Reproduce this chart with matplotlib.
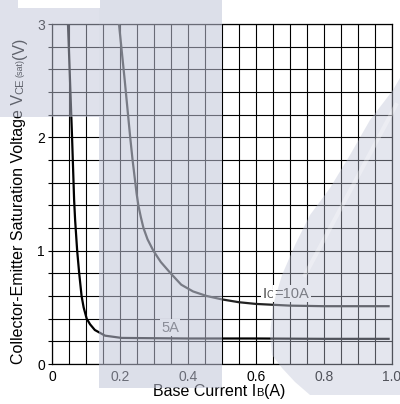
import numpy as np
import matplotlib
matplotlib.use("Agg")
import matplotlib.pyplot as plt
from matplotlib.patches import Rectangle, Polygon

plt.rcParams['font.family'] = ['Liberation Sans', 'DejaVu Sans']

# data
ib_5a = [0.047, 0.053, 0.059, 0.065, 0.068, 0.074, 0.080, 0.087, 0.093, 0.102, 0.112,
         0.126, 0.156, 0.205, 0.40, 0.60, 0.80, 0.99]
vce_5a = [3.0, 2.5, 2.0, 1.45, 1.27, 1.0, 0.8, 0.6, 0.5, 0.4, 0.35,
          0.30, 0.25, 0.23, 0.225, 0.225, 0.222, 0.222]

ib_10a = [0.197, 0.214, 0.230, 0.237, 0.245, 0.249, 0.254, 0.261, 0.269, 0.281, 0.298,
          0.320, 0.349, 0.380, 0.415, 0.455, 0.50, 0.55, 0.60, 0.70, 0.80, 0.99]
vce_10a = [3.0, 2.5, 2.0, 1.8, 1.6, 1.5, 1.4, 1.3, 1.2, 1.1, 1.0,
           0.9, 0.8, 0.7, 0.64, 0.60, 0.57, 0.545, 0.53, 0.515, 0.51, 0.51]

x_ticks = [0, 0.2, 0.4, 0.6, 0.8, 1.0]
x_labels = ["0", "0.2", "0.4", "0.6", "0.8", "1.0"]
y_ticks = [0, 1, 2, 3]
y_labels = ["0", "1", "2", "3"]

W, H = 400, 404
fig = plt.figure(figsize=(W / 100, H / 100), dpi=100)


def px(x, y):
    return (x / W, 1 - y / H)


ax = fig.add_axes([52 / W, 1 - 364 / H, 340 / W, 340 / H])
ax.set_xlim(0, 1)
ax.set_ylim(0, 3)
ax.set_xticks(x_ticks)
ax.set_xticklabels(x_labels)
ax.set_yticks(y_ticks)
ax.set_yticklabels(y_labels)
ax.set_xticks(np.arange(0, 1.001, 0.05), minor=True)
ax.set_yticks(np.arange(0, 3.001, 0.2), minor=True)
ax.grid(True, which='both', color='black', linewidth=0.8)
ax.set_axisbelow(True)
ax.tick_params(axis='x', which='both', length=0, pad=4, labelsize=10, colors='black')
ax.tick_params(axis='y', which='both', length=3, width=0.8, pad=2, labelsize=10, direction='out')
for s in ax.spines.values():
    s.set_linewidth(0.9)

ax.plot(ib_5a, vce_5a, color='black', linewidth=1.6, zorder=3)
ax.plot(ib_10a, vce_10a, color='#222222', linewidth=1.6, zorder=3)

lab_col = '#4a4a4a'
box = dict(facecolor='white', edgecolor='none', pad=1)
t = ax.text(0.62, 0.62, "I", fontsize=10.5, color=lab_col, va='center', ha='left', bbox=box, zorder=4)
t = ax.annotate("C", xy=(1, 0), xycoords=t, xytext=(0, 0.6), textcoords='offset points',
                fontsize=7.5, color=lab_col, va='bottom', ha='left', bbox=box, zorder=4)
ax.annotate("=10A", xy=(1, 0), xycoords=t, xytext=(0, -0.6), textcoords='offset points',
            fontsize=10.5, color=lab_col, va='bottom', ha='left', bbox=box, zorder=4)
ax.text(0.347, 0.32, "5A", fontsize=10.5, color=lab_col, va='center', ha='center', bbox=box, zorder=4)

# x label
tx = fig.text(*px(153, 396), "Base Current I", fontsize=11.5, ha='left', va='baseline')
tb = ax.annotate("B", xy=(1, 0), xycoords=tx, xytext=(0, 0.8), textcoords='offset points',
                 fontsize=8, va='bottom', ha='left', annotation_clip=False)
ax.annotate("(A)", xy=(1, 0), xycoords=tb, xytext=(0, -0.8), textcoords='offset points',
            fontsize=11.5, va='bottom', ha='left', annotation_clip=False)

# y label
t = fig.text(*px(19, 364), "Collector-Emitter Saturation Voltage V", fontsize=11.5,
             rotation=90, ha='center', va='bottom')
t = ax.annotate("CE", xy=(1, 1), xycoords=t, xytext=(-0.8, 0), textcoords='offset points',
                fontsize=8, rotation=90, va='bottom', ha='right', annotation_clip=False)
t = ax.annotate("(sat)", xy=(1, 1), xycoords=t, xytext=(-0.4, 1), textcoords='offset points',
                fontsize=6.5, rotation=90, va='bottom', ha='right', annotation_clip=False)
ax.annotate("(V)", xy=(1, 1), xycoords=t, xytext=(1.2, 0), textcoords='offset points',
            fontsize=11.5, rotation=90, va='bottom', ha='right', annotation_clip=False)

# watermark overlay
lav = '#c0c5d8'
x0, y0 = px(0, 117)
fig.add_artist(Rectangle((x0, y0), 99 / W, 117 / H, transform=fig.transFigure,
                         facecolor=lav, edgecolor='none', alpha=0.5, zorder=10))
x0, y0 = px(99, 388)
fig.add_artist(Rectangle((x0, y0), 123 / W, 388 / H, transform=fig.transFigure,
                         facecolor=lav, edgecolor='none', alpha=0.55, zorder=10))
x0, y0 = px(18, 8)
fig.add_artist(Rectangle((x0, y0), 82 / W, 8 / H, transform=fig.transFigure,
                         facecolor='white', edgecolor='none', zorder=11))
swoosh = [(400, 78), (393, 90), (370, 120), (350, 155), (330, 188), (310, 215), (295, 245),
          (282, 275), (273, 305), (270, 335), (272, 355), (282, 368), (295, 382), (310, 395),
          (400, 395)]
fig.add_artist(Polygon([px(a, b) for a, b in swoosh], closed=True, transform=fig.transFigure,
                       facecolor=lav, edgecolor='none', alpha=0.42, zorder=10))
fig.add_artist(plt.Line2D([396 / W, 305 / W], [1 - 105 / H, 1 - 275 / H], transform=fig.transFigure,
                          color='white', alpha=0.3, linewidth=3, zorder=11))

fig.savefig("out.png", dpi=100)
